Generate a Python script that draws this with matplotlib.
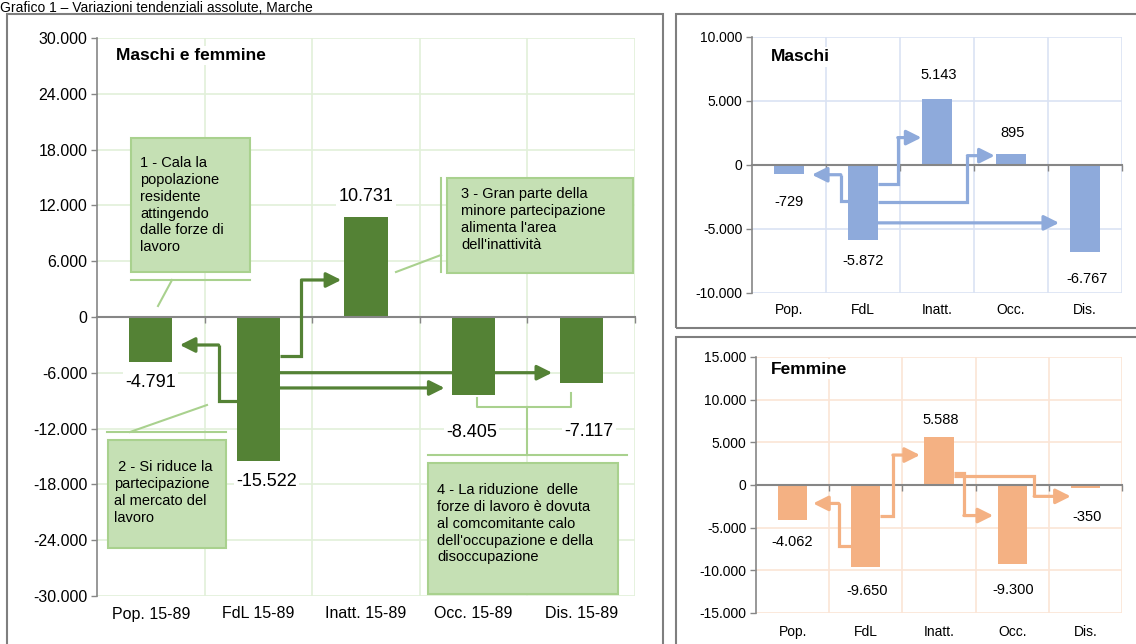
import numpy as np
import matplotlib.pyplot as plt
from matplotlib.patches import Rectangle
from matplotlib.lines import Line2D
from matplotlib.ticker import FuncFormatter

plt.rcParams['font.family'] = ['Liberation Sans', 'DejaVu Sans']

# data
cats_tot = ["Pop. 15-89", "FdL 15-89", "Inatt. 15-89", "Occ. 15-89", "Dis. 15-89"]
cats_sex = ["Pop.", "FdL", "Inatt.", "Occ.", "Dis."]
totale = [-4791, -15522, 10731, -8405, -7117]
maschi = [-729, -5872, 5143, 895, -6767]
femmine = [-4062, -9650, 5588, -9300, -350]

# arrow paths (category index, value)
arrows_tot = [
    [(0.8, -9030), (0.63, -9030), (0.63, -3010), (0.27, -3010)],
    [(1.2, -4160), (1.40, -4160), (1.40, 3980), (1.77, 3980)],
    [(1.2, -5990), (3.73, -5990)],
    [(1.2, -7630), (2.73, -7630)],
]
arrows_m = [
    [(0.8, -2800), (0.70, -2800), (0.70, -760), (0.31, -760)],
    [(1.2, -1470), (1.47, -1470), (1.47, 2140), (1.79, 2140)],
    [(1.2, -2880), (2.41, -2880), (2.41, 730), (2.78, 730)],
    [(1.2, -4520), (3.65, -4520)],
]
arrows_f = [
    [(0.8, -7120), (0.63, -7120), (0.63, -2160), (0.28, -2160)],
    [(1.2, -3580), (1.37, -3580), (1.37, 3510), (1.74, 3510)],
    [(2.2, 1380), (2.34, 1380), (2.34, -3580), (2.74, -3580)],
    [(2.2, 1030), (3.30, 1030), (3.30, -1330), (3.80, -1330)],
]

W, H = 1136, 644
fig = plt.figure(figsize=(W / 100, H / 100), dpi=100)


def fx(px):
    return px / W


def fy(py):
    return 1 - py / H


def thousands(v, pos=None):
    return f"{int(round(v)):,}".replace(",", ".")


def panel(rect, cats, vals, bar_col, grid_col, lim, step, title, arrows,
          offsets, tick_fs, cat_fs, val_fs, cat_pad, title_xy):
    ax = fig.add_axes(rect)
    x = np.arange(len(vals))
    ax.bar(x, vals, width=0.4, color=bar_col, zorder=2)
    ax.set_xlim(-0.5, len(vals) - 0.5)
    ax.set_ylim(-lim, lim)
    ax.set_yticks(np.arange(-lim, lim + 1, step))
    ax.yaxis.set_major_formatter(FuncFormatter(thousands))
    ax.set_xticks(np.arange(0.5, len(vals), 1.0))
    ax.set_xticklabels([])
    ax.grid(True, color=grid_col, lw=1.2, zorder=0)
    ax.set_axisbelow(True)
    for s in ['top', 'right']:
        ax.spines[s].set_visible(False)
    ax.spines['bottom'].set_position(('data', 0))
    ax.spines['bottom'].set_color('#868686')
    ax.spines['bottom'].set_linewidth(1.5)
    ax.spines['bottom'].set_zorder(2.5)
    ax.spines['left'].set_color('#868686')
    ax.spines['left'].set_linewidth(1.2)
    ax.tick_params(axis='both', direction='out', length=4, color='#868686', width=1)
    ax.tick_params(axis='y', labelsize=tick_fs, pad=3)
    for i, c in enumerate(cats):
        ax.annotate(c, xy=(i, 0), xycoords=('data', 'axes fraction'),
                    xytext=(0, -cat_pad * 0.72), textcoords='offset points',
                    ha='center', va='center', fontsize=cat_fs)
    for i, v in enumerate(vals):
        dx, dy = offsets[i]
        ax.annotate(thousands(v), xy=(i, v), xytext=(dx * 0.72, dy * 0.72),
                    textcoords='offset points', ha='center', va='center',
                    fontsize=val_fs, zorder=4,
                    bbox=dict(fc='white', ec='none', pad=1.5))
    ax.text(title_xy[0], title_xy[1], title, transform=ax.transAxes,
            fontsize=12.5, fontweight='bold', ha='left', va='center', zorder=4,
            bbox=dict(fc='white', ec='none', pad=1.5))
    for path in arrows:
        xs = [p[0] for p in path]
        ys = [p[1] for p in path]
        ax.plot(xs[:-1], ys[:-1], color=bar_col, lw=2.3, zorder=3,
                solid_joinstyle='miter', solid_capstyle='butt')
        ax.annotate('', xy=path[-1], xytext=path[-2],
                    arrowprops=dict(arrowstyle='-|>,head_length=0.6,head_width=0.3',
                                    color=bar_col, lw=2.3, mutation_scale=15,
                                    shrinkA=0, shrinkB=0), zorder=3)
    return ax


# outer frames
for x0, y0, x1, y1 in [(7, 14, 663, 650), (676, 14, 1140, 328), (676, 337, 1140, 650)]:
    fig.add_artist(Rectangle((fx(x0), fy(y1)), (x1 - x0) / W, (y1 - y0) / H,
                             transform=fig.transFigure, fill=False,
                             ec='#7f7f7f', lw=1.5, zorder=0.5))

fig.text(0.0, fy(1), "Grafico 1 \u2013 Variazioni tendenziali assolute, Marche",
         fontsize=10, ha='left', va='top')

panel([fx(97), fy(596), 538 / W, 558 / H], cats_tot, totale,
      '#548235', '#e2f0d9', 30000, 6000, "Maschi e femmine", arrows_tot,
      [(0, -21), (8, -20), (0, 21), (-2, -37), (8, -48)],
      11.5, 11.5, 13, 18, (0.035, 0.968))

panel([fx(752), fy(293), 370 / W, 256 / H], cats_sex, maschi,
      '#8eaadb', '#dae3f3', 10000, 5000, "Maschi", arrows_m,
      [(0, -28), (0, -21), (2, 24), (2, 21), (2, -27)],
      10, 10, 10.5, 17, (0.05, 0.922))

panel([fx(756), fy(613), 366 / W, 256 / H], cats_sex, femmine,
      '#f4b183', '#fbe5d6', 15000, 5000, "Femmine", arrows_f,
      [(0, -22), (1, -24), (2, 17), (1, -26), (2, -29)],
      10, 10, 10.5, 19, (0.04, 0.953))

# callout boxes on the left panel
box_fc, box_ec = '#c5e0b4', '#a9d18e'


def box(x0, y0, x1, y1):
    fig.add_artist(Rectangle((fx(x0), fy(y1)), (x1 - x0) / W, (y1 - y0) / H,
                             transform=fig.transFigure, fc=box_fc, ec=box_ec,
                             lw=1.5, zorder=1))


def line(pts):
    fig.add_artist(Line2D([fx(p[0]) for p in pts], [fy(p[1]) for p in pts],
                          transform=fig.transFigure, color=box_ec, lw=1.5, zorder=2))


def btext(x, y, s):
    fig.text(fx(x), fy(y), s, fontsize=10.5, ha='left', va='top',
             linespacing=1.26, zorder=3)


box(131, 138, 250, 272)
line([(131, 280), (250, 280)])
line([(172, 280), (158, 306)])
btext(140, 156, "1 - Cala la\npopolazione\nresidente\nattingendo\ndalle forze di\nlavoro")

box(108, 440, 226, 548)
line([(107, 432), (226, 432)])
line([(130, 432), (207, 405)])
btext(114, 460, " 2 - Si riduce la\npartecipazione\nal mercato del\nlavoro")

box(447, 178, 633, 273)
line([(441, 178), (441, 272)])
line([(441, 255), (396, 272)])
btext(461, 187, "3 - Gran parte della\nminore partecipazione\nalimenta l'area\ndell'inattività")

box(428, 463, 618, 594)
line([(428, 455), (627, 455)])
line([(527, 455), (527, 407)])
line([(477, 398), (477, 407), (571, 407), (571, 393)])
btext(437, 483, "4 - La riduzione  delle\nforze di lavoro è dovuta\nal comcomitante calo\ndell'occupazione e della\ndisoccupazione")

plt.savefig("out.png", dpi=100, facecolor="white")
